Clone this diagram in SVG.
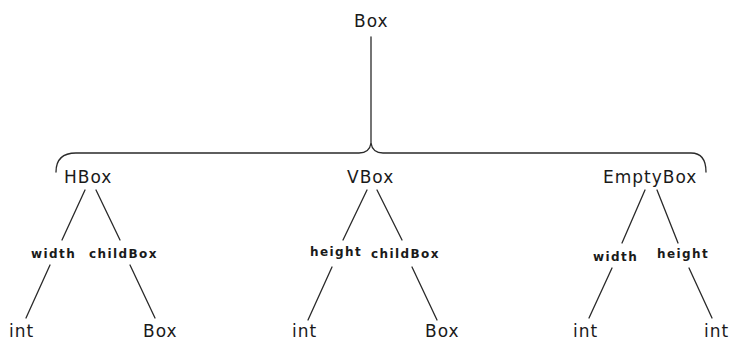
<svg xmlns="http://www.w3.org/2000/svg" width="729" height="340" viewBox="0 0 729 340">
  <style>
    .type { font-family: "DejaVu Sans", Verdana, sans-serif; font-size: 17px; letter-spacing: 1px; fill: #1a1a1a; }
    .field { font-family: "DejaVu Sans", Verdana, sans-serif; font-size: 12px; font-weight: bold; letter-spacing: 1.4px; fill: #1a1a1a; }
    .edge { fill: none; stroke: #2a2a2a; stroke-width: 1.3; stroke-linecap: round; }
  </style>
  <rect width="729" height="340" fill="#ffffff"/>

  <!-- connectors -->
  <g id="connectors">
    <!-- root stem and brace over the three variants -->
    <path class="edge" d="M371,37 V143"/>
    <path class="edge" d="M56,172 C56,160 62,153 76,153 H359 C366,153 370,150 371,143 C372,150 376,153 383,153 H691 C702,153 706,160 706,172"/>
    <!-- HBox -->
    <path class="edge" d="M85,190 L62,240"/>
    <path class="edge" d="M96,190 L120,240"/>
    <path class="edge" d="M50,265 L26,318"/>
    <path class="edge" d="M130,265 L155,318"/>
    <!-- VBox -->
    <path class="edge" d="M367,190 L343,240"/>
    <path class="edge" d="M377,190 L402,240"/>
    <path class="edge" d="M332,267 L308,320"/>
    <path class="edge" d="M412,267 L437,320"/>
    <!-- EmptyBox -->
    <path class="edge" d="M645,190 L622,243"/>
    <path class="edge" d="M657,190 L678,243"/>
    <path class="edge" d="M612,268 L589,318"/>
    <path class="edge" d="M689,268 L712,318"/>
  </g>

  <g id="box-root"><text class="type" x="354" y="27">Box</text></g>

  <g id="hbox"><text class="type" x="64" y="183">HBox</text></g>
  <g id="hbox-width"><text class="field" x="31" y="258">width</text></g>
  <g id="hbox-childbox"><text class="field" x="89" y="258">childBox</text></g>
  <g id="hbox-int"><text class="type" x="9" y="337">int</text></g>
  <g id="hbox-box"><text class="type" x="143" y="337">Box</text></g>

  <g id="vbox"><text class="type" x="347" y="183">VBox</text></g>
  <g id="vbox-height"><text class="field" x="310" y="256">height</text></g>
  <g id="vbox-childbox"><text class="field" x="371" y="258">childBox</text></g>
  <g id="vbox-int"><text class="type" x="292" y="337">int</text></g>
  <g id="vbox-box"><text class="type" x="425" y="337">Box</text></g>

  <g id="emptybox"><text class="type" x="603" y="183">EmptyBox</text></g>
  <g id="emptybox-width"><text class="field" x="593" y="261">width</text></g>
  <g id="emptybox-height"><text class="field" x="657" y="258">height</text></g>
  <g id="emptybox-int-w"><text class="type" x="573" y="337">int</text></g>
  <g id="emptybox-int-h"><text class="type" x="704" y="337">int</text></g>
</svg>
